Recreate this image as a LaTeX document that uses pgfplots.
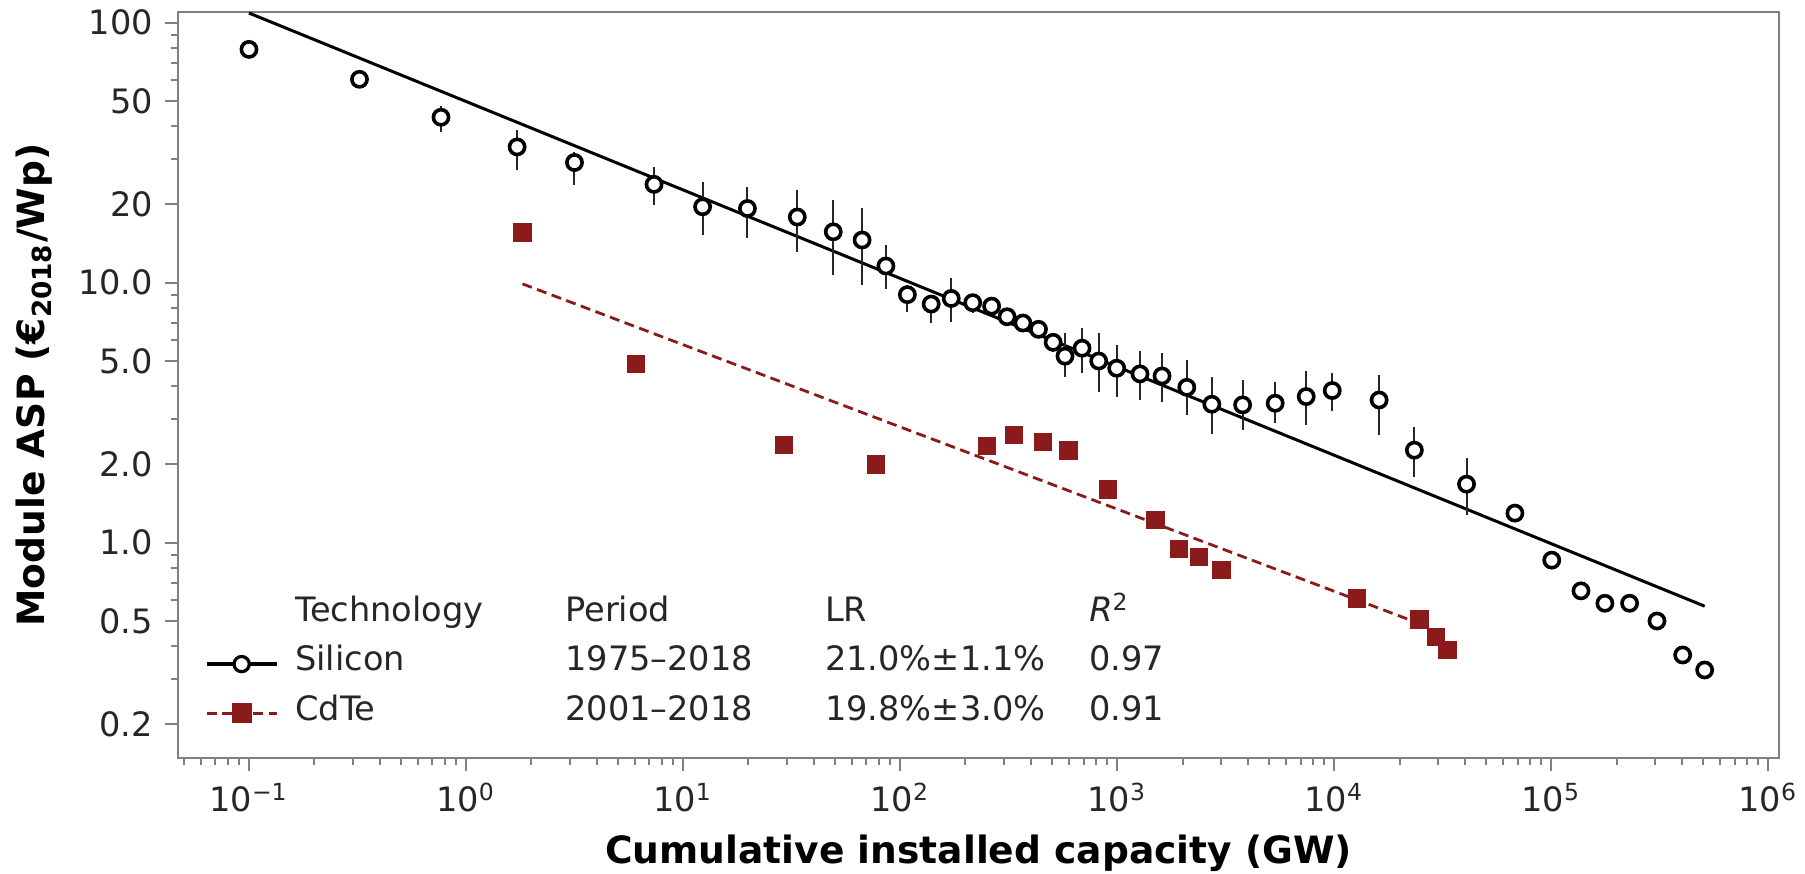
\documentclass[border=0pt]{standalone}
\usepackage{fontspec}
\setmainfont{DejaVu Sans}
\usepackage{pgfplots}
\usepackage{pgfplotstable}
\pgfplotsset{compat=1.18}
\definecolor{cdte}{RGB}{139,26,26}
\definecolor{framec}{RGB}{128,128,128}
\definecolor{txt}{RGB}{38,38,38}

\pgfplotstableread{
x y ep em
0.1 79 0 0
0.323 60.6 0 0
0.767 43.3 4.57 5.15
1.72 33.3 5.5 6.2
3.16 29.0 2.97 5.2
7.35 23.9 4.0 4.0
12.3 19.6 4.9 4.35
19.8 19.3 4.15 4.46
33.6 17.9 4.76 4.78
49.2 15.7 5.09 5.0
66.8 14.6 4.73 4.8
86 11.6 2.33 2.11
108 9.0 0.84 1.26
139 8.28 0.64 1.3
172 8.7 1.69 1.63
216 8.38 0 0.71
264 8.13 0 0
311 7.4 0 0
368 7.0 0 0
434 6.62 0 0
507 5.9 0 0.5
575 5.22 1.16 0.87
689 5.6 1.09 1.11
822 5.0 1.39 1.19
995 4.69 1.07 1.04
1274 4.46 0.98 0.92
1610 4.38 0.97 0.89
2093 3.96 1.08 0.86
2730 3.41 0.93 0.78
3784 3.39 0.84 0.67
5346 3.44 0.73 0.56
7430 3.65 0.91 0.81
9790 3.85 0.64 0.65
16100 3.54 0.88 0.95
23400 2.27 0.52 0.48
40700 1.68 0.44 0.40
68000 1.30 0 0
100500 0.857 0 0
137000 0.653 0 0
176600 0.585 0 0
229500 0.585 0 0
307000 0.50 0 0
403000 0.37 0 0
509000 0.324 0 0
}\silicon

\pgfplotstableread{
x y
1.82 15.6
6.08 4.87
29.2 2.38
77.6 2.0
252 2.35
334 2.6
455 2.44
597 2.26
906 1.60
1503 1.22
1932 0.944
2389 0.88
3027 0.785
12700 0.611
24700 0.507
29400 0.435
33200 0.386
}\cdte

\begin{document}
\fontsize{8.4}{10}\selectfont
\begin{tikzpicture}
\begin{axis}[
  name=ax,
  scale only axis, width=400.25pt, height=186.5pt,
  xmode=log, ymode=log,
  xmin=0.0471, xmax=1.12e6, ymin=0.1486, ymax=110,
  axis line style={framec, line width=0.6pt},
  tick align=outside, tick pos=left,
  major tick length=3.25pt, minor tick length=1.75pt,
  every tick/.style={framec, line width=0.5pt},
  xtick={0.1,1,10,100,1000,10000,100000,1000000},
  xticklabels={10\textsuperscript{−1},10\textsuperscript{0},10\textsuperscript{1},10\textsuperscript{2},10\textsuperscript{3},10\textsuperscript{4},10\textsuperscript{5},10\textsuperscript{6}},
  minor xtick={0.05,0.06,0.07,0.08,0.09,0.2,0.3,0.4,0.5,0.6,0.7,0.8,0.9,2,3,4,5,6,7,8,9,20,30,40,50,60,70,80,90,200,300,400,500,600,700,800,900,2000,3000,4000,5000,6000,7000,8000,9000,2e4,3e4,4e4,5e4,6e4,7e4,8e4,9e4,2e5,3e5,4e5,5e5,6e5,7e5,8e5,9e5},
  ytick={0.2,0.5,1,2,5,10,20,50,100},
  yticklabels={0.2,0.5,1.0,2.0,5.0,10.0,20,50,100},
  minor ytick={0.3,0.4,0.6,0.7,0.8,0.9,3,4,6,7,8,9,30,40,60,70,80,90},
  ticklabel style={font=\fontsize{8.4}{10}\selectfont, text=txt},
  xlabel={\bfseries Cumulative installed capacity (GW)},
  ylabel={\bfseries Module ASP (€\textsubscript{2018}/Wp)},
  xlabel style={at={(axis description cs:0.5,-0.1408)}, anchor=base, font=\fontsize{9.4}{11}\selectfont, text=black},
  ylabel style={at={(axis description cs:-0.0833,0.5)}, anchor=base, font=\fontsize{9.4}{11}\selectfont, text=black},
  legend image code/.code={\draw[mark repeat=2,mark phase=2,#1] plot coordinates {(0pt,0pt) (8.75pt,0pt) (17.5pt,0pt)};},
  legend cell align=left,
  legend style={draw=none, fill=none, inner sep=0pt, outer sep=0pt,
    at={(rel axis cs:0.0169,0.2149)}, anchor=north west,
    row sep=3.7pt, column sep=4.25pt,
    nodes={inner sep=0pt, text height=6pt, text depth=2.6pt, text=txt, font=\fontsize{8.4}{10}\selectfont}},
]
\addlegendimage{empty legend}
\addlegendentry{\makebox[67.5pt][l]{Technology}\makebox[65pt][l]{Period}\makebox[66pt][l]{LR}\textit{R}\textsuperscript{2}}
\addlegendimage{black, line width=0.8pt, mark=*, mark size=1.9pt, mark options={fill=white, draw=black, line width=0.8pt}}
\addlegendentry{\makebox[67.5pt][l]{Silicon}\makebox[65pt][l]{1975–2018}\makebox[66pt][l]{21.0\%±1.1\%}0.97}
\addlegendimage{cdte, line width=0.75pt, dash pattern=on 2.5pt off 1.4pt, mark=square*, mark size=2.1pt, mark options={solid, fill=cdte, draw=cdte}}
\addlegendentry{\makebox[67.5pt][l]{CdTe}\makebox[65pt][l]{2001–2018}\makebox[66pt][l]{19.8\%±3.0\%}0.91}

\addplot[black, line width=0.75pt, forget plot] coordinates {(0.1,109) (5.09e5,0.570)};
\addplot[cdte, line width=0.7pt, dash pattern=on 2.5pt off 1.4pt, forget plot] coordinates {(1.82,9.9) (2.45e4,0.49)};
\addplot[forget plot, only marks, mark=*, mark size=1.9pt, mark options={fill=white, draw=black, line width=0.9pt},
  error bars/.cd, y dir=both, y explicit, error mark=none, error bar style={black!85, line width=0.5pt}]
  table[x=x, y=y, y error plus=ep, y error minus=em] {\silicon};
\addplot[forget plot, only marks, mark=square*, mark size=2.1pt, mark options={draw=cdte, fill=cdte}]
  table[x=x, y=y] {\cdte};
\end{axis}
\pgfresetboundingbox
\path[use as bounding box] ([xshift=-44.5pt,yshift=-29pt]ax.south west) rectangle ([xshift=6.5pt,yshift=3pt]ax.north east);
\end{tikzpicture}
\end{document}
